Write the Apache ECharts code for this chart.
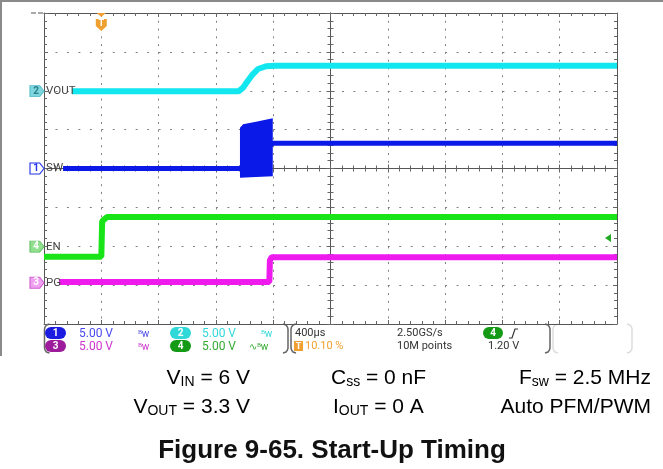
<!DOCTYPE html>
<html><head><meta charset="utf-8">
<script src="https://cdn.jsdelivr.net/npm/echarts@6/dist/echarts.min.js"></script>
<style>html,body{margin:0;padding:0;background:#fff}#c{width:663px;height:469px}</style>
</head><body><div id="c"></div>
<script>
// ---- Data (time in µs, trigger at 0; amplitude in screen divisions) ----
const voutTime = [-205, 960, 990, 1022, 1052, 1094, 1150, 1212, 3600];
const voutDiv  = [1.99, 1.99, 2.08, 2.25, 2.40, 2.56, 2.63, 2.64, 2.64];
const swTime   = [-267, 968, 1197, 3600];
const swDiv    = [0.0, 0.0, 0.65, 0.65];
const swBurstTime = [968, 968, 990, 1080, 1197, 1197, 1080];
const swBurstDiv  = [-0.24, 1.05, 1.14, 1.2, 1.29, -0.2, -0.22];
const enTime   = [-400, 0, 6, 40, 3600];
const enDiv    = [-2.27, -2.27, -1.36, -1.25, -1.25];
const pgTime   = [-295, 1173, 1177, 1190, 3600];
const pgDiv    = [-2.92, -2.92, -2.36, -2.28, -2.28];
const chRefDiv = {vout: 1.99, sw: 0.0, en: -2.01, pg: -2.94};
const trigLevelDiv = -1.79;
const chNames = ['VOUT', 'SW', 'EN', 'PG'];
const scaleTexts = ['5.00 V', '5.00 V', '5.00 V', '5.00 V'];
const timebaseText = '400µs';
const trigPosText = '10.10 %';
const sampleText = ['2.50GS/s', '10M points'];
const trigText = '1.20 V';

const C = {cyan:'#12e6ee', blue:'#0a18e8', green:'#18e418', mag:'#ee1aee', orange:'#f0a030'};
const zip = (a, b) => a.map((v, i) => [v, b[i]]);

function xAx(pos, offset, split) {
  return {type:'value', min:-400, max:3600, interval:400, position:pos, offset:offset,
    axisLine:{show:true, onZero:false, lineStyle:{color:'#555', width:1}},
    axisTick:{show:true, inside:true, length:4, lineStyle:{color:'#666'}},
    minorTick:{show:true, splitNumber:5, length:3, lineStyle:{color:'#666'}},
    axisLabel:{show:false},
    splitLine:{show:split, lineStyle:{color:'#808080', type:[2, 5.78], width:1}},
    minorSplitLine:{show:false}};
}
function yAx(pos, offset, split) {
  return {type:'value', min:-4, max:4, interval:1, position:pos, offset:offset,
    axisLine:{show:true, onZero:false, lineStyle:{color:'#555', width:1}},
    axisTick:{show:true, inside:true, length:4, lineStyle:{color:'#666'}},
    minorTick:{show:true, splitNumber:5, length:3, lineStyle:{color:'#666'}},
    axisLabel:{show:false},
    splitLine:{show:split, lineStyle:{color:'#808080', type:[2, 9.46], width:1}},
    minorSplitLine:{show:false}};
}
function chMarker(ref, num, name, fill, stroke, txt) {
  return [
    {coord:[-400, ref], symbol:'path://M0,0 L9,0 L13,5.5 L9,11 L0,11 Z', symbolSize:[14, 11], symbolOffset:[-7, 0],
      itemStyle:{color:fill, borderColor:stroke, borderWidth:1},
      label:{show:true, formatter:num, position:'inside', offset:[-1, 0], color:txt, fontSize:10, fontWeight:'bold', fontFamily:'Roboto'}},
    {coord:[-400, ref], symbol:'rect', symbolSize:0.1, itemStyle:{color:'rgba(0,0,0,0)'},
      label:{show:true, formatter:name, position:'right', distance:2, color:'#444', fontSize:11.5, fontFamily:'Roboto'}}
  ];
}
const lineBase = {type:'line', showSymbol:false, symbol:'none', xAxisIndex:0, yAxisIndex:0, animation:false, silent:true};

const font = 'Roboto';
function t(x, y, text, color, size) {
  return {type:'text', x:x, y:y, style:{text:text, fill:color, font:(size||11)+'px ' + font, verticalAlign:'middle'}};
}
function pill(x, y, w, h, fill, label) {
  return [{type:'rect', shape:{x:x, y:y, width:w, height:h, r:h/2}, style:{fill:fill}},
          {type:'text', x:x + w/2, y:y + h/2 + 0.5, style:{text:label, fill:'#fff', font:'bold 10px ' + font, align:'center', verticalAlign:'middle'}}];
}
function bracket(x1, x2, y1, y2, color) {
  const L = [[x1+5,y1],[x1+2,y1+1],[x1+0.5,y1+3],[x1,y1+5],[x1,y2-5],[x1+0.5,y2-3],[x1+2,y2-1],[x1+5,y2]];
  const R = [[x2-5,y1],[x2-2,y1+1],[x2-0.5,y1+3],[x2,y1+5],[x2,y2-5],[x2-0.5,y2-3],[x2-2,y2-1],[x2-5,y2]];
  return [
    {type:'polyline', shape:{points:L}, style:{fill:null, stroke:color, lineWidth:1.5}},
    {type:'polyline', shape:{points:R}, style:{fill:null, stroke:color, lineWidth:1.5}}
  ];
}
const capFont = '"Liberation Sans", Arial, sans-serif';
const capRich = {
  a:{fontSize:21, fontFamily:capFont, color:'#111', lineHeight:22, verticalAlign:'middle'},
  s:{fontSize:14, fontFamily:capFont, color:'#111', lineHeight:10, verticalAlign:'bottom'}
};
function cap(x, y, text, align) {
  return {type:'text', x:x, y:y, style:{text:text, rich:capRich, align:align, verticalAlign:'middle'}};
}

const graphics = [
  {type:'line', shape:{x1:0, y1:1, x2:663, y2:1}, style:{stroke:'#8a8a8a', lineWidth:2}},
  {type:'line', shape:{x1:1, y1:0, x2:1, y2:356}, style:{stroke:'#8a8a8a', lineWidth:2}},
  {type:'line', shape:{x1:31, y1:13, x2:36, y2:13}, style:{stroke:'#555', lineWidth:1}},
  {type:'line', shape:{x1:38, y1:13, x2:43, y2:13}, style:{stroke:'#555', lineWidth:1}},
  ...bracket(44.5, 288, 324, 353, '#666'),
  ...bracket(291, 550, 324, 353, '#666'),
  ...bracket(553, 632, 324, 353, '#ddd'),
  ...pill(45, 327, 21, 12, '#1c1ce0', '1'),
  ...pill(45, 340, 21, 12, '#9c1c9c', '3'),
  ...pill(170, 327, 21, 12, '#30d8d8', '2'),
  ...pill(170, 340, 21, 12, '#159a15', '4'),
  t(79, 333.5, scaleTexts[0], '#4848ee', 12),
  t(79, 346.5, scaleTexts[2], '#cc33cc', 12),
  t(202, 333.5, scaleTexts[1], '#33d8d8', 12),
  t(202, 346.5, scaleTexts[3], '#33aa33', 12),
  t(138, 334, 'ᴮw', '#4848ee', 10),
  t(138, 347, 'ᴮw', '#cc33cc', 10),
  t(261, 334, 'ᴮw', '#33d8d8', 10),
  t(249, 347, '∿ᴮw', '#33aa33', 10),
  t(295, 333.5, timebaseText, '#333', 11),
  {type:'rect', shape:{x:294, y:341, width:9, height:10}, style:{fill:C.orange}},
  {type:'text', x:298.5, y:346.5, style:{text:'T', fill:'#fff', font:'bold 9px ' + font, align:'center', verticalAlign:'middle'}},
  t(305, 346.5, trigPosText, C.orange, 11),
  t(397, 333.5, sampleText[0], '#333', 11),
  t(397, 346.5, sampleText[1], '#333', 11),
  ...pill(483, 327, 20, 12, '#159a15', '4'),
  {type:'polyline', shape:{points:[[509,338],[512,338],[515,329],[518,329]]}, style:{stroke:'#333', lineWidth:1.2, fill:null}},
  t(488, 346.5, trigText, '#333', 11),
  cap(250, 378, '{a|V}{s|IN}{a| = 6 V}', 'right'),
  cap(250, 407, '{a|V}{s|OUT}{a| = 3.3 V}', 'right'),
  cap(331, 378, '{a|C}{s|ss}{a| = 0 nF}', 'left'),
  cap(333, 407, '{a|I}{s|OUT}{a| = 0 A}', 'left'),
  cap(651, 378, '{a|F}{s|sw}{a| = 2.5 MHz}', 'right'),
  cap(651, 407, '{a|Auto PFM/PWM}', 'right'),
  {type:'text', x:332, y:451, style:{text:'Figure 9-65. Start-Up Timing', fill:'#111', font:'bold 26px ' + capFont, align:'center', verticalAlign:'middle'}}
];

const chart = echarts.init(document.getElementById('c'), null, {renderer:'canvas'});
chart.setOption({
  animation:false,
  backgroundColor:'#fff',
  grid:{left:44, top:13, width:573, height:311, show:false},
  xAxis:[xAx('bottom', 0, true), xAx('top', 0, false), xAx('bottom', -155.5, false), xAx('top', -155.5, false)],
  yAxis:[yAx('left', 0, true), yAx('right', 0, false), yAx('left', -286.5, false), yAx('right', -286.5, false)],
  series:[
    Object.assign({}, lineBase, {name:'PG', data:zip(pgTime, pgDiv), lineStyle:{color:C.mag, width:6}, z:3,
      markPoint:{silent:true, animation:false, data:chMarker(chRefDiv.pg, '3', chNames[3], '#f0a0f0', '#d060d0', '#fff')}}),
    Object.assign({}, lineBase, {name:'EN', data:zip(enTime, enDiv), lineStyle:{color:C.green, width:6}, z:3,
      markPoint:{silent:true, animation:false, data:[
        ...chMarker(chRefDiv.en, '4', chNames[2], '#90e090', '#60c060', '#fff'),
        {coord:[3600, trigLevelDiv], symbol:'path://M6,0 L6,8 L0,4 Z', symbolSize:[6, 8], symbolOffset:[-9, 0], itemStyle:{color:'#22aa22'}, label:{show:false}},
        {coord:[0, 4], symbol:'path://M1,0 L9,0 L5,4 Z M0,6 L10,6 L10,13 L5,18 L0,13 Z', symbolSize:[11, 18], symbolOffset:[0, 9], itemStyle:{color:C.orange},
          label:{show:true, formatter:'T', position:'inside', offset:[0, 2], color:'#fff', fontSize:9, fontWeight:'bold', fontFamily:'Roboto'}}
      ]}}),
    Object.assign({}, lineBase, {name:'SW', data:zip(swTime, swDiv), lineStyle:{color:C.blue, width:5}, z:4,
      markPoint:{silent:true, animation:false, data:chMarker(chRefDiv.sw, '1', chNames[1], '#ffffff', '#2233ee', '#2233ee')}}),
    {type:'custom', name:'SW burst', xAxisIndex:0, yAxisIndex:0, silent:true, animation:false, z:5,
      data:zip(swBurstTime, swBurstDiv),
      renderItem:(params, api) => {
        if (params.dataIndex !== 0) return {type:'group', children:[]};
        const pts = swBurstTime.map((tt, i) => api.coord([tt, swBurstDiv[i]]));
        return {type:'polygon', shape:{points:pts}, style:{fill:C.blue}};
      }},
    Object.assign({}, lineBase, {name:'VOUT', data:zip(voutTime, voutDiv), lineStyle:{color:C.cyan, width:6}, z:3,
      markPoint:{silent:true, animation:false, data:chMarker(chRefDiv.vout, '2', chNames[0], '#7fd6de', '#55c0cc', '#2a7f88')}})
  ],
  graphic:graphics
});
</script></body></html>
